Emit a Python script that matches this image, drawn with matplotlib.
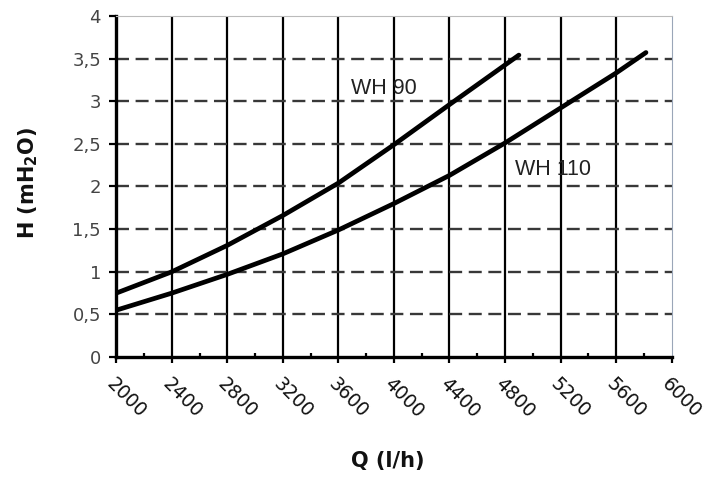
import matplotlib.pyplot as plt
from matplotlib.ticker import MultipleLocator, FuncFormatter

q_wh90 = [2000, 2400, 2800, 3200, 3600, 4000, 4400, 4900]
h_wh90 = [0.75, 1.0, 1.31, 1.66, 2.04, 2.49, 2.96, 3.54]
q_wh110 = [2000, 2400, 2800, 3200, 3600, 4000, 4400, 4800, 5200, 5600, 5815]
h_wh110 = [0.55, 0.75, 0.97, 1.21, 1.49, 1.8, 2.13, 2.51, 2.92, 3.33, 3.57]
x_ticks = list(range(2000, 6001, 400))

fig = plt.figure(figsize=(7.13, 4.8), dpi=100)
ax = fig.add_axes([0.163, 0.256, 0.779, 0.711])

for x in x_ticks[1:-1]:
    ax.axvline(x, color='black', lw=1.6, zorder=1)
for y in [0.5, 1, 1.5, 2, 2.5, 3, 3.5]:
    ax.axhline(y, color='#383838', lw=1.7, dashes=(5.5, 2.8), zorder=1)

ax.plot(q_wh90, h_wh90, color='black', lw=3.4, solid_capstyle='round', zorder=3)
ax.plot(q_wh110, h_wh110, color='black', lw=3.4, solid_capstyle='round', zorder=3)

ax.text(3690, 3.15, 'WH 90', fontsize=15.5, family='Liberation Sans',
        color='#222222', va='center', ha='left')
ax.text(4875, 2.2, 'WH 110', fontsize=15.5, family='Liberation Sans',
        color='#222222', va='center', ha='left')

ax.set_xlim(2000, 6000)
ax.set_ylim(0, 4)
ax.set_xticks(x_ticks)
ax.xaxis.set_minor_locator(MultipleLocator(200))
ax.yaxis.set_major_locator(MultipleLocator(0.5))
ax.yaxis.set_major_formatter(FuncFormatter(lambda v, p: ('%g' % v).replace('.', ',')))
ax.tick_params(axis='x', which='major', direction='out', length=4.5, width=1.6,
               labelsize=13.5, pad=8, labelcolor='#111111')
ax.tick_params(axis='x', which='minor', direction='in', length=3, width=1.6)
ax.tick_params(axis='y', direction='out', length=5, width=1.6, labelsize=13,
               pad=6, labelcolor='#444444')
for lab in ax.get_xticklabels():
    lab.set_rotation(-45)
    lab.set_ha('left')
    lab.set_va('top')
    lab.set_rotation_mode('anchor')

ax.spines['left'].set_linewidth(2.4)
ax.spines['bottom'].set_linewidth(2.4)
ax.spines['top'].set_color('#bbbbbb')
ax.spines['right'].set_color('#9aa6b8')

ax.set_xlabel('Q (l/h)', fontsize=15, fontweight='bold', color='#111111')
ax.set_ylabel(r'H (mH$_\mathbf{2}$O)', fontsize=15, fontweight='bold', color='#111111')
ax.xaxis.set_label_coords(0.488, -0.276)
ax.yaxis.set_label_coords(-0.138, 0.51)

fig.savefig('out.png', dpi=100)
